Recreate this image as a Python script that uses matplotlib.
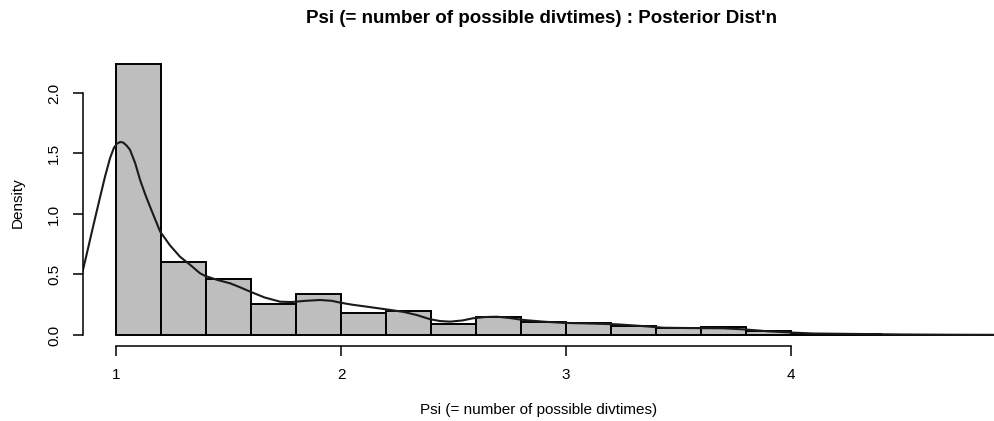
import numpy as np
import matplotlib.pyplot as plt

plt.rcParams['font.family'] = ['Liberation Sans', 'DejaVu Sans']

# histogram (bin left edges, width 0.2) and densities
bin_left = [1.0, 1.2, 1.4, 1.6, 1.8, 2.0, 2.2, 2.4, 2.6, 2.8,
            3.0, 3.2, 3.4, 3.6, 3.8, 4.0, 4.2, 4.4, 4.6, 4.8]
bin_density = [2.24, 0.60, 0.46, 0.26, 0.34, 0.18, 0.20, 0.094, 0.15, 0.11,
               0.095, 0.075, 0.06, 0.065, 0.033, 0.012, 0.008, 0.002, 0.0, 0.002]
bin_width = 0.2

# kernel density curve, read point by point
kde_x = [0.848, 0.866, 0.884, 0.906, 0.929, 0.951, 0.973, 0.99, 1.003, 1.018,
         1.032, 1.047, 1.062, 1.085, 1.107, 1.13, 1.151, 1.175, 1.196, 1.24,
         1.284, 1.329, 1.373, 1.396, 1.45, 1.507, 1.55, 1.596, 1.66, 1.729,
         1.78, 1.84, 1.907, 1.96, 1.996, 2.05, 2.114, 2.218, 2.28, 2.336,
         2.396, 2.44, 2.484, 2.54, 2.587, 2.64, 2.692, 2.75, 2.81, 2.9,
         2.987, 3.1, 3.225, 3.33, 3.43, 3.55, 3.7, 3.8, 3.9, 4.0,
         4.1, 4.3, 4.5, 4.7, 4.95]
kde_y = [0.50, 0.64, 0.785, 0.96, 1.14, 1.31, 1.46, 1.545, 1.58, 1.595,
         1.59, 1.565, 1.53, 1.42, 1.28, 1.16, 1.06, 0.95, 0.854, 0.74,
         0.647, 0.58, 0.51, 0.488, 0.455, 0.427, 0.395, 0.358, 0.31, 0.275,
         0.272, 0.282, 0.289, 0.282, 0.267, 0.25, 0.234, 0.207, 0.19, 0.165,
         0.13, 0.115, 0.11, 0.12, 0.138, 0.148, 0.151, 0.14, 0.124, 0.11,
         0.10, 0.095, 0.088, 0.075, 0.06, 0.057, 0.055, 0.045, 0.03, 0.02,
         0.012, 0.008, 0.004, 0.002, 0.001]

x_ticks = [1, 2, 3, 4]
y_ticks = [0.0, 0.5, 1.0, 1.5, 2.0]

fig = plt.figure(figsize=(9.95, 4.21), dpi=100)
ax = fig.add_axes([83 / 995, (421 - 345.8) / 421, (995 - 83) / 995, (345.8 - 53.1) / 421])

ax.bar(bin_left, bin_density, width=bin_width, align='edge',
       color='#bebebe', edgecolor='black', linewidth=1.4)
ax.plot(kde_x, kde_y, color='#1a1a1a', linewidth=1.5)

ax.set_xlim(0.853, 4.907)
ax.set_ylim(-0.0896, 2.3296)

for s in ['top', 'right']:
    ax.spines[s].set_visible(False)
ax.spines['bottom'].set_bounds(1, 4)
ax.spines['left'].set_bounds(0, 2)
for s in ['bottom', 'left']:
    ax.spines[s].set_linewidth(1.1)

ax.set_xticks(x_ticks)
ax.set_xticklabels([str(t) for t in x_ticks])
ax.set_yticks(y_ticks)
ax.set_yticklabels(['%.1f' % t for t in y_ticks], rotation=90, va='center')
ax.tick_params(length=7.2, width=1.1, pad=8.5, labelsize=11)

fig.text(541 / 995, 1 - 18.5 / 421, "Psi (= number of possible divtimes) : Posterior Dist'n",
         ha='center', va='center', fontsize=13.5, fontweight='bold')
fig.text(539 / 995, 1 - 410 / 421, "Psi (= number of possible divtimes)",
         ha='center', va='center', fontsize=11)
fig.text(18 / 995, 1 - 203 / 421, "Density", rotation=90,
         ha='center', va='center', fontsize=11)

fig.savefig('out.png', dpi=100)
